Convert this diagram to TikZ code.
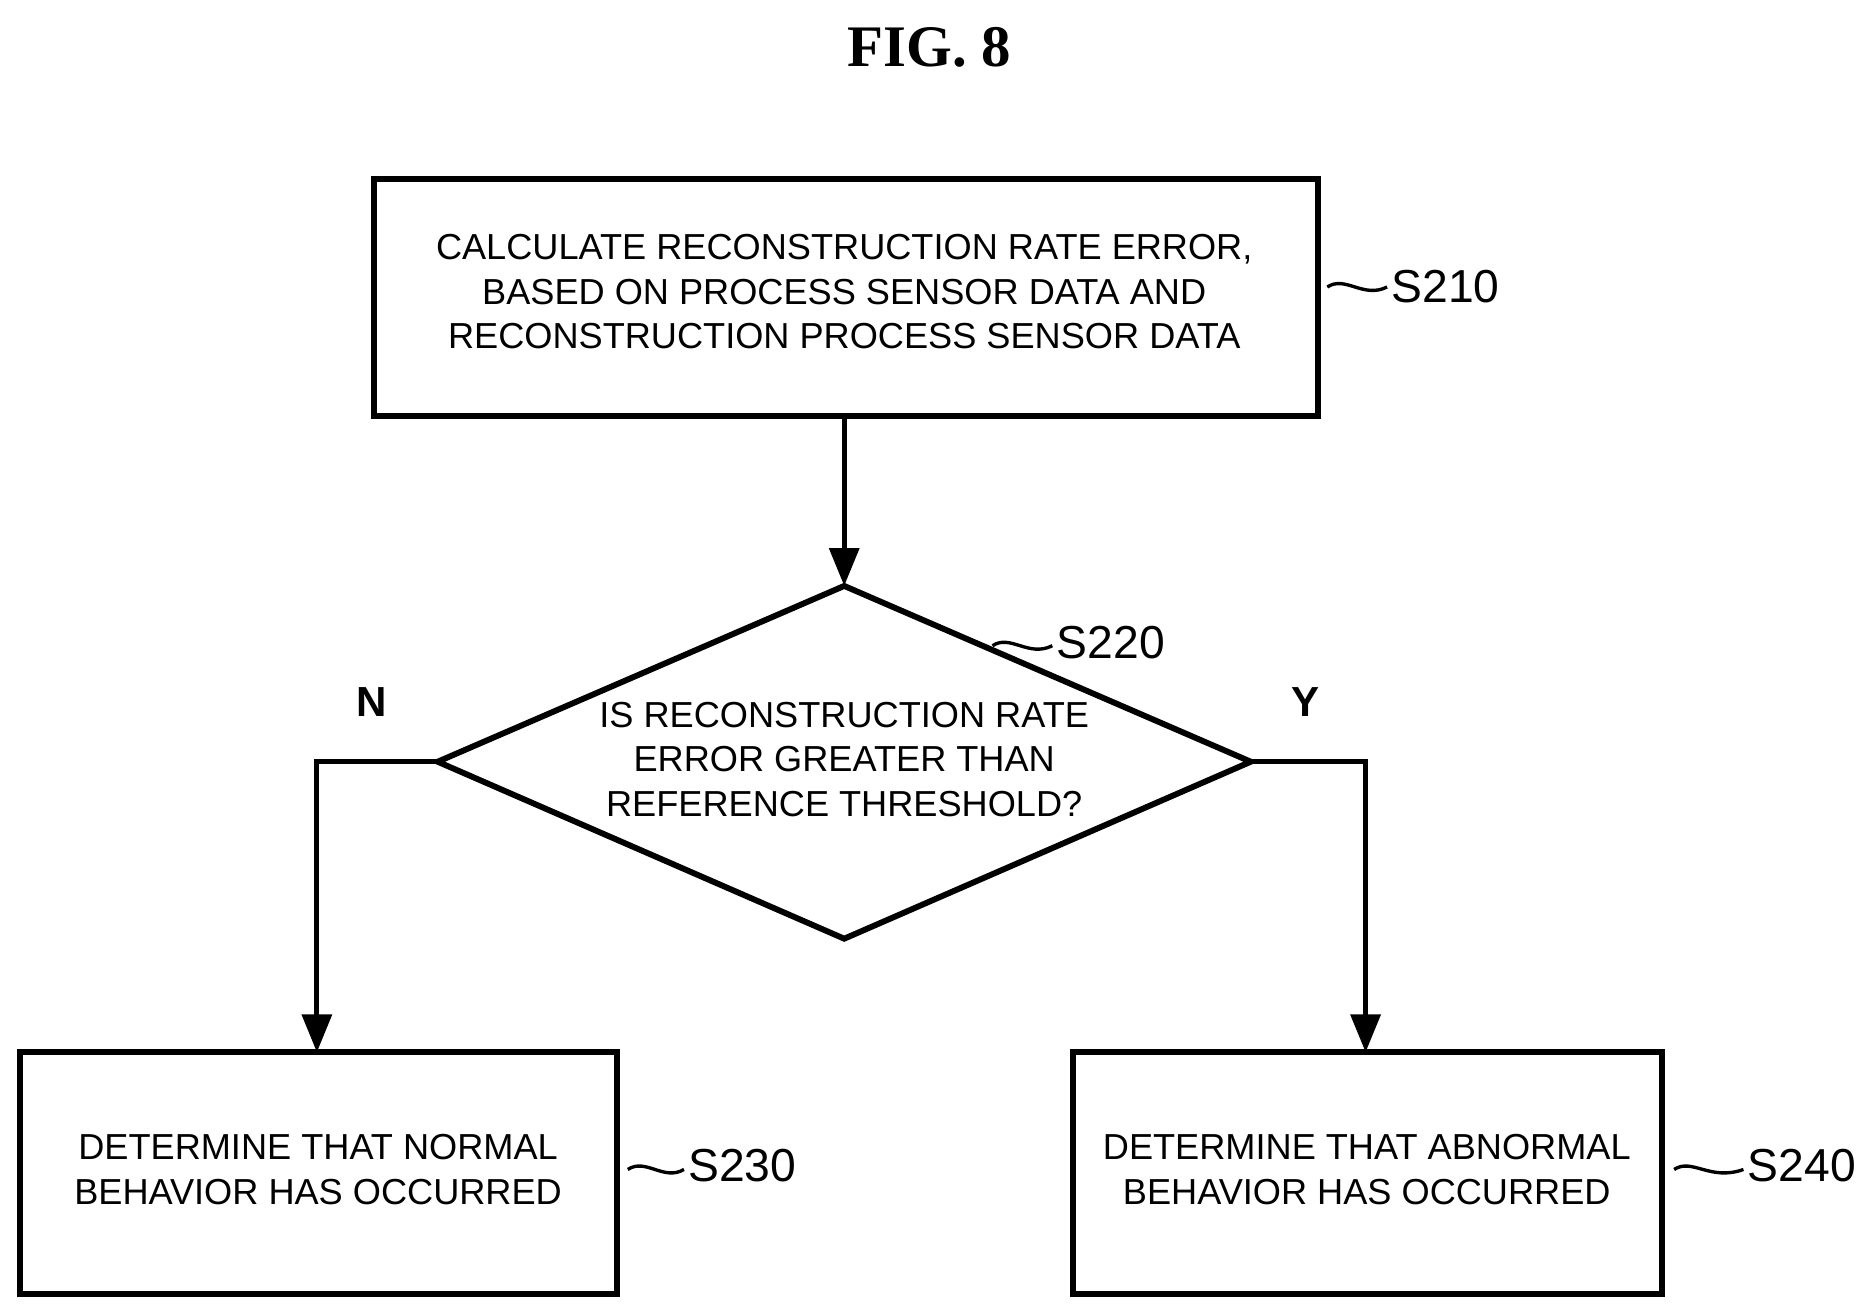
\documentclass[tikz,border=0pt]{standalone}
\usepackage{fontspec}
\setmainfont{Liberation Sans}
\newfontfamily\titlefont{Liberation Serif}
\usetikzlibrary{shapes.geometric,arrows.meta}
\begin{document}
\begin{tikzpicture}[x=0.01cm,y=-0.01cm,
  box/.style={draw,line width=1.4pt,minimum width=0pt},
  txt/.style={font=\fontsize{8.6}{10.6}\selectfont,align=center,inner sep=0pt},
  lab/.style={font=\fontsize{11}{12}\selectfont,anchor=west,inner sep=0pt},
  arr/.style={line width=1.2pt,-{Triangle[length=9pt,width=7pt]}},
  tl/.style={line width=0.8pt}]
\useasboundingbox (0,0) rectangle (1568,1100);
\node[font=\titlefont\bfseries\fontsize{14}{16}\selectfont] (title) at (777,40) {FIG. 8};
\draw[box] (313,150) rectangle (1102,348);
\coordinate (b1t) at (706,348);
\node[txt] (t1) at (706,244) {CALCULATE RECONSTRUCTION RATE ERROR,\\BASED ON PROCESS SENSOR DATA AND\\RECONSTRUCTION PROCESS SENSOR DATA};
\coordinate (dtop) at (706,490);
\coordinate (dl) at (366,637);
\coordinate (dr) at (1046,637);
\coordinate (db) at (706,785);
\draw[line width=1.4pt] (dtop) -- (dr) -- (db) -- (dl) -- cycle;
\node[txt] (t2) at (706,635) {IS RECONSTRUCTION RATE\\ERROR GREATER THAN\\REFERENCE THRESHOLD?};
\draw[box] (17,880) rectangle (516,1082);
\node[txt] (t3) at (266,978) {DETERMINE THAT NORMAL\\BEHAVIOR HAS OCCURRED};
\draw[box] (897,880) rectangle (1390,1082);
\node[txt] (t4) at (1143,978) {DETERMINE THAT ABNORMAL\\BEHAVIOR HAS OCCURRED};
\coordinate (b3) at (265,880);
\coordinate (b4) at (1142,880);
\draw[arr] (b1t) -- (dtop);
\draw[arr] (dl) -- (265,637) -- (b3);
\draw[arr] (dr) -- (1142,637) -- (b4);
\node[font=\bfseries\fontsize{10}{12}\selectfont] (n) at (311,587) {N};
\node[font=\bfseries\fontsize{10}{12}\selectfont] (y) at (1092,587) {Y};
\draw[tl] (1110,240) .. controls (1125,230) and (1140,250) .. (1160,240);
\node[lab] (s210) at (1163,240) {S210};
\draw[tl] (830,540) .. controls (845,530) and (860,550) .. (880,540);
\node[lab] (s220) at (883,537) {S220};
\draw[tl] (525,978) .. controls (540,968) and (555,988) .. (572,978);
\node[lab] (s230) at (575,975) {S230};
\draw[tl] (1400,978) .. controls (1415,968) and (1430,988) .. (1458,978);
\node[lab] (s240) at (1461,975) {S240};
\end{tikzpicture}
\end{document}
